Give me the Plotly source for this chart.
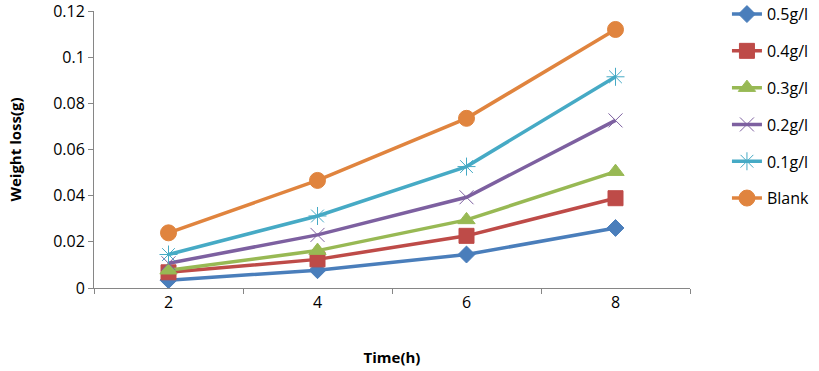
import plotly.graph_objects as go

time_h = [2, 4, 6, 8]
series_names = ["0.5g/l", "0.4g/l", "0.3g/l", "0.2g/l", "0.1g/l", "Blank"]
conc_05 = [0.0034, 0.0077, 0.0145, 0.0260]
conc_04 = [0.0068, 0.0124, 0.0226, 0.0389]
conc_03 = [0.0077, 0.0162, 0.0295, 0.0504]
conc_02 = [0.0107, 0.0230, 0.0393, 0.0726]
conc_01 = [0.0145, 0.0312, 0.0526, 0.0915]
blank = [0.0239, 0.0466, 0.0735, 0.1120]
y_ticks = [0, 0.02, 0.04, 0.06, 0.08, 0.1, 0.12]
y_tick_labels = ["0", "0.02", "0.04", "0.06", "0.08", "0.1", "0.12"]

values = [conc_05, conc_04, conc_03, conc_02, conc_01, blank]
colors = ["#4A7EBB", "#BE4B48", "#98B954", "#7D60A0", "#46AAC5", "#E0843E"]
symbols = ["diamond", "square", "triangle-up", "x-thin-open", "asterisk-open", "circle"]
sizes = [13, 15, 15, 14, 15, 16]

fig = go.Figure()
for name, vals, c, s, sz in zip(series_names, values, colors, symbols, sizes):
    fig.add_trace(go.Scatter(
        x=time_h, y=vals, name=name, mode="lines+markers",
        line=dict(color=c, width=3.5),
        marker=dict(symbol=s, size=sz, color=c, line=dict(color=c, width=1)),
        legendgroup=name,
    ))

font_family = "'Open Sans', sans-serif"
fig.update_layout(
    width=819, height=371,
    margin=dict(l=94, r=129, t=11, b=83, autoexpand=False),
    paper_bgcolor="white", plot_bgcolor="white",
    font=dict(family=font_family, size=16, color="black"),
    showlegend=True,
    legend=dict(x=1.062, y=1.05, xanchor="left", yanchor="top", maxheight=371,
                font=dict(size=16), tracegroupgap=13, bgcolor="rgba(0,0,0,0)"),
    xaxis=dict(range=[1, 9], tickvals=time_h, ticktext=[str(t) for t in time_h],
               ticks="", showgrid=False, zeroline=False, showline=True,
               linecolor="#868686", linewidth=1,
               minor=dict(tick0=1, dtick=2, ticks="outside", ticklen=5, tickcolor="#868686"),
               title=dict(text="<b>Time(h)</b>", font=dict(size=15), standoff=40),
               tickfont=dict(size=16)),
    yaxis=dict(range=[0, 0.12], tickvals=y_ticks, ticktext=y_tick_labels,
               ticks="outside", ticklen=5, tickcolor="#868686",
               showgrid=False, zeroline=False, showline=True,
               linecolor="#868686", linewidth=1, ticklabeloverflow="allow",
               title=dict(text="<b>Weight loss(g)</b>", font=dict(size=15), standoff=27),
               tickfont=dict(size=16)),
)
fig.write_html("out.html", config={"displayModeBar": False},
               post_script="document.body.style.margin='0';")
